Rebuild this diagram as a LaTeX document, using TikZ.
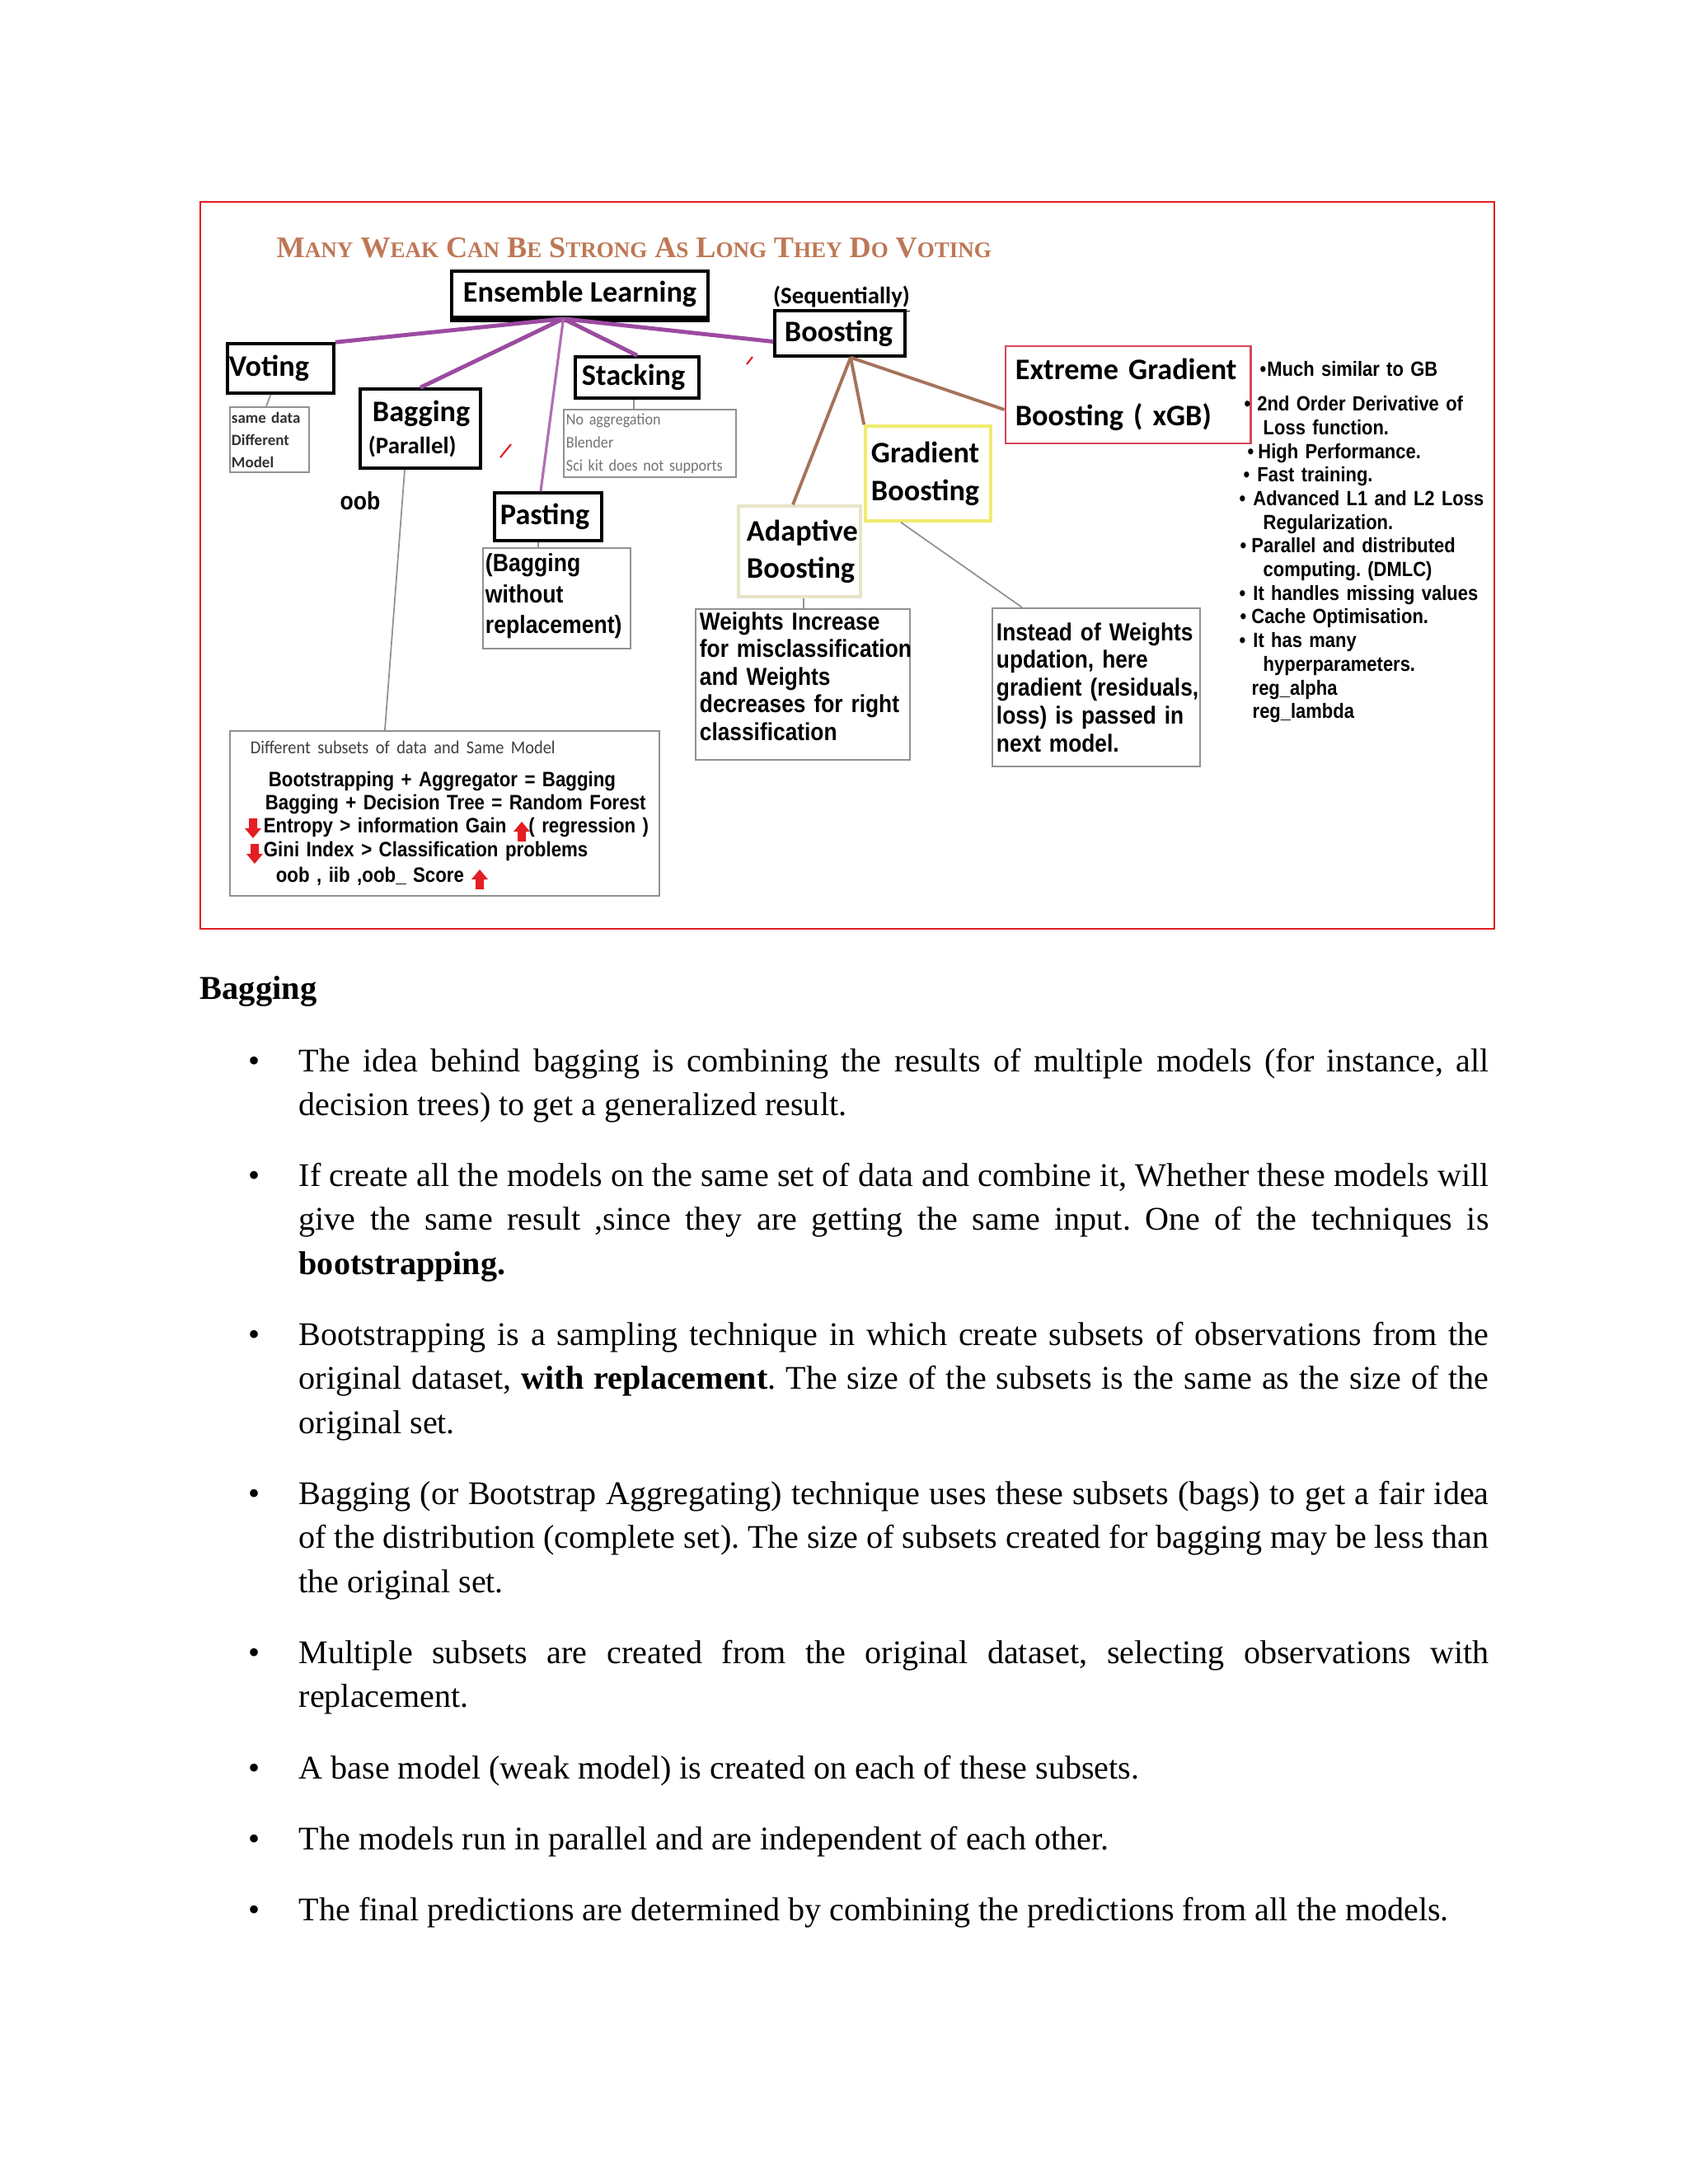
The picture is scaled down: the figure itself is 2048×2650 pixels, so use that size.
\documentclass[tikz,border=0pt]{standalone}
\usepackage{fontspec}
\setmainfont{Liberation Serif}
\newfontfamily\lblfont{Carlito}
\newfontfamily\narrowfont[FakeStretch=0.88]{Liberation Sans}
\newfontfamily\calnarrow[FakeStretch=0.92]{Carlito}

\definecolor{titlebrown}{RGB}{190,120,85}
\definecolor{edgepurple}{RGB}{155,75,160}
\definecolor{edgebrown}{RGB}{165,115,90}
\definecolor{gbyellow}{RGB}{240,235,110}
\definecolor{adabeige}{RGB}{232,228,200}
\definecolor{xgbred}{RGB}{215,70,90}
\definecolor{framered}{RGB}{228,30,35}
\definecolor{notegray}{RGB}{145,145,145}

\tolerance=9999
\hyphenpenalty=10000
\frenchspacing

\newlength\pxu
\setlength\pxu{0.01cm}
\newcommand{\xb}[3]{\hspace*{#1\pxu}•\hspace*{#2\pxu}#3}
\newcommand{\titlecap}[2]{{\fontsize{10.3}{12}\selectfont#1}{\fontsize{7.7}{12}\selectfont#2}}

\tikzset{
    lbl/.style={draw, line width=1pt, inner sep=0pt, align=left,
        font=\lblfont\bfseries\fontsize{10.3}{#1}\selectfont},
    lbl/.default=12.4,
    note/.style={draw=notegray, line width=0.6pt, inner sep=0pt, align=left},
    purple edge/.style={edgepurple, line width=1.4pt},
    brown edge/.style={edgebrown, line width=1.1pt},
    thin edge/.style={notegray, line width=0.5pt},
    para/.style={anchor=base west, inner sep=0pt, text width=14.43cm, align=justify,
        font=\fontsize{11.4}{15.2}\selectfont},
    dot/.style={anchor=base, inner sep=0pt, font=\fontsize{11.4}{15.2}\selectfont},
    dnarrow/.pic={\fill[framered] (-5,-12) -- (5,-12) -- (5,0) -- (10,0) -- (0,12) -- (-10,0) -- (-5,0) -- cycle;},
    uparrow/.pic={\fill[framered] (-5,12) -- (5,12) -- (5,0) -- (10,0) -- (0,-12) -- (-10,0) -- (-5,0) -- cycle;}
}

\begin{document}
\begin{tikzpicture}[x=0.01cm, y=-0.01cm]
    \fill[white] (0,0) rectangle (2048,2650);
    \useasboundingbox (0,0) rectangle (2048,2650);
    % Frame round the diagram
    \draw[framered, line width=0.6pt] (243,245) rectangle (1813,1127);
    \node[anchor=base west, inner sep=0pt, text=titlebrown, font=\bfseries] (title) at (335,312)
        {\titlecap{M}{ANY} \titlecap{W}{EAK} \titlecap{C}{AN} \titlecap{B}{E} \titlecap{S}{TRONG}
         \titlecap{A}{S} \titlecap{L}{ONG} \titlecap{T}{HEY} \titlecap{D}{O} \titlecap{V}{OTING}};

    % Main boxes
    \node[lbl, align=center, minimum width=3.11cm, minimum height=0.56cm] (ens) at (703.5,357) {Ensemble Learning};
    \draw[line width=1.2pt] ([yshift=-0.025cm]ens.south west) -- ([yshift=-0.025cm]ens.south east);
    \node[lbl, minimum width=1.29cm, minimum height=0.6cm, text width=1.25cm] (vot) at (340.5,447) {Voting};
    \node[lbl=11.1, minimum width=1.46cm, minimum height=0.96cm, text width=1.26cm] (bag) at (510,520)
        {\hspace*{0.05cm}Bagging\\{\fontsize{8.2}{11.1}\selectfont(Parallel)}};
    \node[lbl, minimum width=1.5cm, minimum height=0.5cm, text width=1.34cm] (stk) at (773,458) {Stacking};
    \node[lbl, minimum width=1.3cm, minimum height=0.58cm, text width=1.16cm] (pst) at (665,627) {Pasting};
    \node[lbl, minimum width=1.58cm, minimum height=0.55cm, text width=1.34cm] (bst) at (1019,404.5) {Boosting};
    \node[anchor=base, inner sep=0pt, font=\lblfont\bfseries\fontsize{8.2}{10}\selectfont] (seq) at (1021,368)
        {\underline{(Sequentially)}};
    \node[lbl=15.9, draw=xgbred, line width=0.8pt, minimum width=2.97cm, minimum height=1.18cm, text width=2.73cm]
        (xgb) at (1368.5,479) {Extreme Gradient\\Boosting ( xGB)};
    \node[lbl=13.1, draw=gbyellow, minimum width=1.52cm, minimum height=1.15cm, text width=1.38cm]
        (gb) at (1126,574.5) {Gradient\\Boosting};
    \node[lbl=12.7, draw=adabeige, minimum width=1.48cm, minimum height=1.10cm, text width=1.28cm]
        (ada) at (970,669) {Adaptive\\Boosting};

    % Notes
    \node[note, minimum width=0.96cm, minimum height=0.79cm, text width=0.92cm, text=black!80,
        font=\lblfont\bfseries\fontsize{5.4}{7.7}\selectfont] (votnote) at (327,533.5) {same data\\Different\\Model};
    \node[note, minimum width=2.09cm, minimum height=0.82cm, text width=2.03cm, text=black!55,
        font=\calnarrow\fontsize{5.6}{7.96}\selectfont] (stknote) at (788.5,538)
        {No aggregation\\Blender\\\mbox{Sci kit does not supports}};
    \node[note, minimum width=1.79cm, minimum height=1.22cm, text width=1.73cm,
        font=\narrowfont\bfseries\fontsize{8.6}{10.7}\selectfont] (pstnote) at (675.5,726)
        {(Bagging\\without\\\mbox{replacement)}\\[-0.257cm]\mbox{}};
    \node[note, minimum width=2.60cm, minimum height=1.83cm, text width=2.50cm,
        font=\narrowfont\bfseries\fontsize{8.5}{9.5}\selectfont] (adanote) at (974,830.5)
        {Weights Increase\\\mbox{for misclassification}\\and Weights\\\mbox{decreases for right}\\classification\\[-0.135cm]\mbox{}};
    \node[note, minimum width=2.52cm, minimum height=1.92cm, text width=2.42cm,
        font=\narrowfont\bfseries\fontsize{8.5}{9.6}\selectfont] (gbnote) at (1330,834)
        {Instead of Weights\\updation, here\\\mbox{gradient (residuals,}\\\mbox{loss) is passed in}\\next model.};
    \node[note, minimum width=5.21cm, minimum height=2.0cm, text width=4.71cm,
        font=\narrowfont\bfseries\fontsize{7.2}{8.1}\selectfont] (bagnote) at (539.5,987)
        {\mbox{\calnarrow\mdseries\color{black!75}\fontsize{6.3}{8.1}\selectfont Different subsets of data and Same Model}\\[0.11cm]
         \mbox{\hspace*{0.22cm}Bootstrapping + Aggregator = Bagging}\\
         \mbox{\hspace*{0.18cm}Bagging + Decision Tree = Random Forest}\\
         \mbox{\hspace*{0.16cm}Entropy > information Gain\hspace*{0.27cm}( regression )}\\
         \mbox{\hspace*{0.16cm}Gini Index > Classification problems}\\[0.03cm]
         \mbox{\hspace*{0.31cm}oob , iib ,oob\_ Score}};
    \pic at ([shift={(-232.5,18)}]bagnote.center) {dnarrow};
    \pic at ([shift={(93.5,22)}]bagnote.center) {uparrow};
    \pic at ([shift={(-230.5,49)}]bagnote.center) {dnarrow};
    \pic at ([shift={(42.5,80)}]bagnote.center) {uparrow};
    \node[inner sep=0pt, font=\narrowfont\bfseries\fontsize{8.6}{10}\selectfont] (oob) at (437,608) {oob};
    \node[anchor=base west, inner sep=0pt, text width=3.2cm, align=left,
        font=\narrowfont\bfseries\fontsize{7.1}{8.16}\selectfont] (xgbnotes) at (1503,456)
        {\xb{25}{1}{Much similar to GB}\\[0.14cm]
         \xb{6}{8}{2nd Order Derivative of}\\
         \hspace*{29\pxu}Loss function.\\
         \xb{10}{5}{High Performance.}\\
         \xb{5}{9}{Fast training.}\\
         \xb{0}{9}{Advanced L1 and L2 Loss}\\
         \hspace*{29\pxu}Regularization.\\
         \xb{1}{6}{Parallel and distributed}\\
         \hspace*{29\pxu}computing. (DMLC)\\
         \xb{0}{9}{It handles missing values}\\
         \xb{1}{6}{Cache Optimisation.}\\
         \xb{0}{9}{It has many}\\
         \hspace*{29\pxu}hyperparameters.\\
         \hspace*{15\pxu}reg\_alpha\\
         \hspace*{16\pxu}reg\_lambda};

    % Connectors
    \draw[purple edge] ([xshift=-0.2cm]ens.south) -- (vot.north east);
    \draw[purple edge] ([xshift=-0.2cm]ens.south) -- (bag.north);
    \draw[purple edge] ([xshift=-0.2cm]ens.south) -- (stk.north);
    \draw[purple edge] ([xshift=-0.2cm]ens.south) -- ([yshift=-0.1cm]bst.west);
    \draw[edgepurple!80, line width=0.9pt] ([xshift=-0.2cm]ens.south) -- ([xshift=-0.09cm]pst.north);
    \draw[brown edge] ([xshift=0.13cm]bst.south) -- ([xshift=-0.08cm]ada.north);
    \draw[brown edge] ([xshift=0.13cm]bst.south) -- (gb.north west);
    \draw[brown edge] ([xshift=0.13cm]bst.south) -- ([yshift=-0.18cm]xgb.west);
    \draw[thin edge] ([xshift=-0.12cm]vot.south) -- ([xshift=-0.04cm]votnote.north);
    \draw[thin edge] ([xshift=-0.04cm]stk.south) -- ([xshift=-0.04cm]stk.south |- stknote.north);
    \draw[thin edge] ([xshift=-0.12cm]pst.south) -- ([xshift=-0.12cm]pst.south |- pstnote.north);
    \draw[thin edge] ([xshift=0.05cm]ada.south) -- ([xshift=0.05cm]ada.south |- adanote.north);
    \draw[thin edge] ([xshift=-0.33cm]gb.south) -- ([xshift=-0.9cm]gbnote.north);
    \draw[thin edge] ([xshift=-0.19cm]bag.south) -- ([xshift=-0.725cm]bagnote.north);
    % small red ticks
    \draw[framered, line width=0.6pt] (906,442) -- (913,433);
    \draw[framered, line width=0.6pt] (607,555) -- (620,539);

    % Text below the diagram
    \node[anchor=base west, inner sep=0pt, font=\bfseries\fontsize{11.5}{14}\selectfont] (head) at (242,1212) {Bagging};
    \foreach \y [count=\i] in {1300,1439.5,1632.5,1825.5,2018.5,2158,2244,2330}
        \node[dot] (dot\i) at (309,\y) {•};
    \node[para] (p1) at (362,1300) {The idea behind bagging is combining the results of multiple models (for instance, all\linebreak
        decision trees) to get a generalized result.};
    \node[para] (p2) at (362,1439.5) {If create all the models on the same set of data and combine it, Whether these models will\linebreak
        give the same result ,since they are getting the same input. One of the techniques is\linebreak
        \textbf{bootstrapping.}};
    \node[para] (p3) at (362,1632.5) {Bootstrapping is a sampling technique in which create subsets of observations from the\linebreak
        original dataset, \textbf{with replacement}. The size of the subsets is the same as the size of the\linebreak
        original set.};
    \node[para] (p4) at (362,1825.5) {Bagging (or Bootstrap Aggregating) technique uses these subsets (bags) to get a fair idea\linebreak
        of the distribution (complete set). The size of subsets created for bagging may be less than\linebreak
        the original set.};
    \node[para] (p5) at (362,2018.5) {Multiple subsets are created from the original dataset, selecting observations with\linebreak
        replacement.};
    \node[para] (p6) at (362,2158) {A base model (weak model) is created on each of these subsets.};
    \node[para] (p7) at (362,2244) {The models run in parallel and are independent of each other.};
    \node[para] (p8) at (362,2330) {The final predictions are determined by combining the predictions from all the models.};
\end{tikzpicture}
\end{document}
